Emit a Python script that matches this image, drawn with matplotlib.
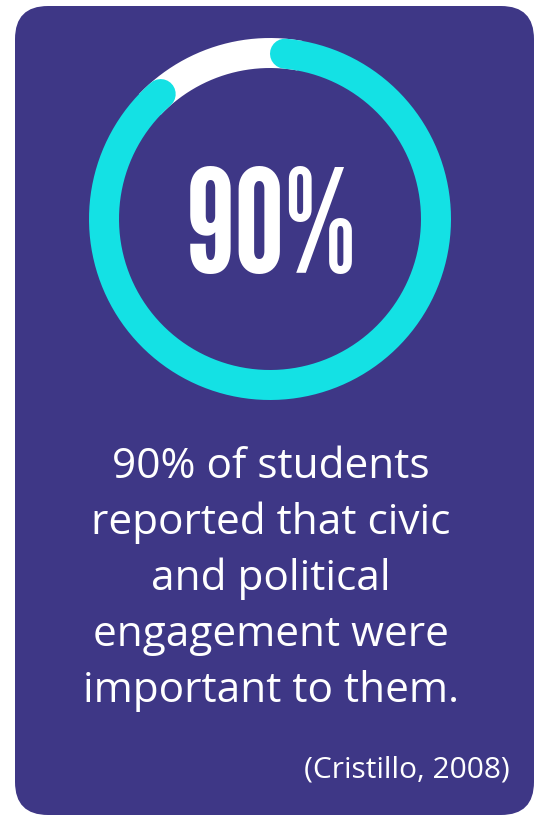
import matplotlib
matplotlib.use("Agg")
import matplotlib.pyplot as plt
import numpy as np
from matplotlib.patches import FancyBboxPatch

# data
percent = 90
big_label = "90%"
body_lines = ["90% of students", "reported that civic", "and political",
              "engagement were", "important to them."]
citation = "(Cristillo, 2008)"

bg = "#3e3786"
cyan = "#14e1e4"

fig = plt.figure(figsize=(5.44, 8.16), dpi=100)
ax = fig.add_axes([0, 0, 1, 1])
ax.set_xlim(0, 544)
ax.set_ylim(816, 0)
ax.set_aspect("equal")
ax.axis("off")

# card
rad = 33
card = FancyBboxPatch((15 + rad, 6 + rad), 519 - 2 * rad, 809 - 2 * rad,
                      boxstyle=f"round,pad={rad}", fc=bg, ec="none")
ax.add_patch(card)

# ring
cx, cy, r = 270, 219, 166
ring_w = 30 * 72 / 100  # px -> pt

def arc(a0, a1, **kw):
    t = np.radians(np.linspace(a0, a1, 400))
    ax.plot(cx + r * np.cos(t), cy - r * np.sin(t), **kw)

cap = np.degrees(15 / r)
gap = 360 * (100 - percent) / 100
start = 90 - cap
end = 90 - 360 + gap + cap
arc(90 + gap + 2 * cap, 90 - 2 * cap, color="white", lw=ring_w, solid_capstyle="butt")
arc(start, end, color=cyan, lw=ring_w, solid_capstyle="round")

# big number
ax.text(271, 273, big_label, color="white", fontsize=103, family="League Gothic",
        ha="center", va="baseline")

# body
for i, line in enumerate(body_lines):
    ax.text(271, 478 + i * 56, line, color="white", fontsize=30.5,
            family="Open Sans", ha="center", va="baseline")

ax.text(510, 778, citation, color="white", fontsize=21.5, family="Open Sans",
        ha="right", va="baseline")

fig.savefig("out.png", dpi=100)
